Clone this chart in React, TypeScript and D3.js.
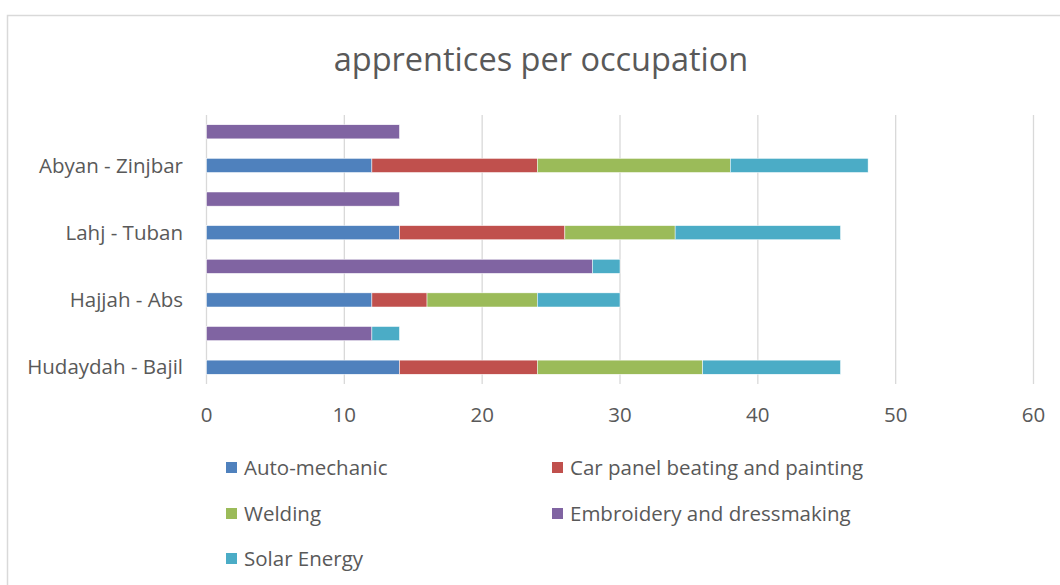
import React from "react";
import * as d3 from "d3";

const categories = ["Hudaydah - Bajil", "", "Hajjah - Abs", "", "Lahj - Tuban", "", "Abyan - Zinjbar", ""];
const seriesNames = ["Auto-mechanic", "Car panel beating and painting", "Welding", "Embroidery and dressmaking", "Solar Energy"];
const autoMechanic = [14, 0, 12, 0, 14, 0, 12, 0];
const carPanel = [10, 0, 4, 0, 12, 0, 12, 0];
const welding = [12, 0, 8, 0, 8, 0, 14, 0];
const embroidery = [0, 12, 0, 28, 0, 14, 0, 14];
const solarEnergy = [10, 2, 6, 2, 12, 0, 10, 0];
const xTicks = [0, 10, 20, 30, 40, 50, 60];
const colors = ["#4F81BD", "#C0504D", "#9BBB59", "#8064A2", "#4BACC6"];

const FONT = "'Open Sans', Lato, sans-serif";
const TEXT = "#595959";

export default function App() {
  const W = 1060, H = 585;
  const x = d3.scaleLinear().domain([0, 60]).range([206.5, 1033.5]);
  const idx = categories.map((_, i) => String(i));
  const y = d3.scaleBand<string>().domain(idx).range([384, 115]).paddingInner(0.58).paddingOuter(0.29);

  const rows = categories.map((c, i) => ({
    key: String(i),
    s0: autoMechanic[i],
    s1: carPanel[i],
    s2: welding[i],
    s3: embroidery[i],
    s4: solarEnergy[i],
  }));
  const stack = d3.stack<any>().keys(["s0", "s1", "s2", "s3", "s4"]);
  const layers = stack(rows);

  const legendPos = [
    { x: 226, y: 468 },
    { x: 552, y: 468 },
    { x: 226, y: 514 },
    { x: 552, y: 514 },
    { x: 226, y: 559 },
  ];

  return (
    <svg width={W} height={H} style={{ position: "absolute", left: 0, top: 0 }} fontFamily={FONT}>
      <rect x={0} y={0} width={W} height={H} fill="#fff" />
      <path d={`M7.5,${H} V15.5 H${W}`} fill="none" stroke="#D9D9D9" strokeWidth={1.5} />
      <text x={541} y={71} textAnchor="middle" fontSize={32.5} fill={TEXT}>apprentices per occupation</text>
      {xTicks.map((t) => (
        <g key={t}>
          <line x1={x(t)} x2={x(t)} y1={115} y2={384} stroke="#D9D9D9" strokeWidth={1.3} />
          <text x={x(t)} y={422} textAnchor="middle" fontSize={20.5} fill={TEXT}>{t}</text>
        </g>
      ))}
      {layers.map((layer, si) => (
        <g key={si} fill={colors[si]}>
          {layer.map((d, i) => {
            const w = x(d[1]) - x(d[0]);
            if (w <= 0) return null;
            return (
              <rect key={i} x={x(d[0])} y={y(String(i))!} width={w} height={y.bandwidth()} stroke="#fff" strokeWidth={0.5} />
            );
          })}
        </g>
      ))}
      {categories.map((c, i) => (
        <text key={i} x={183} y={y(String(i))! + y.bandwidth() / 2} dy="0.35em" textAnchor="end" fontSize={20.5} fill={TEXT}>{c}</text>
      ))}
      {seriesNames.map((n, i) => (
        <g key={n}>
          <rect x={legendPos[i].x} y={legendPos[i].y - 6} width={11} height={11} fill={colors[i]} />
          <text x={legendPos[i].x + 18} y={legendPos[i].y} dy="0.35em" fontSize={20.5} fill={TEXT}>{n}</text>
        </g>
      ))}
    </svg>
  );
}
